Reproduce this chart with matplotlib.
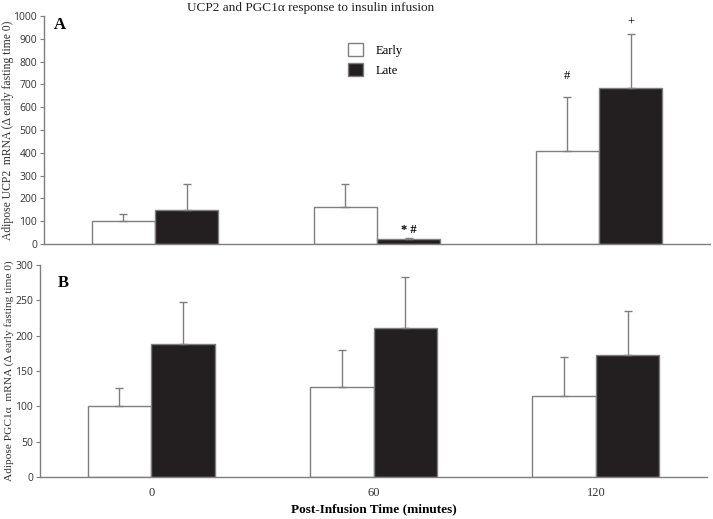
import numpy as np
import matplotlib
matplotlib.use('Agg')
import matplotlib.pyplot as plt

# Data
times = ['0', '60', '120']
ucp2_early = [100, 162, 410]
ucp2_early_err = [30, 103, 235]
ucp2_late = [150, 20, 685]
ucp2_late_err = [112, 6, 237]
pgc_early = [100, 127, 115]
pgc_early_err = [26, 53, 55]
pgc_late = [188, 211, 173]
pgc_late_err = [59, 72, 62]

serif = 'Liberation Serif'
sans = 'Open Sans'
grey = '#7f7f7f'
dark = '#231f20'

fig = plt.figure(figsize=(7.13, 5.19), dpi=100)
axA = fig.add_axes([0.0617, 0.5299, 0.9341, 0.4393])
axB = fig.add_axes([0.0561, 0.0809, 0.9355, 0.4085])

x = np.arange(len(times))
w = 0.285


def draw(ax, early, eerr, late, lerr, ymax, step):
    ax.bar(x - w / 2, early, w, color='white', edgecolor=grey, linewidth=1.0,
           yerr=[np.zeros(3), eerr], error_kw=dict(ecolor=grey, elinewidth=1.0, capsize=3, capthick=1.0),
           label='Early')
    ax.bar(x + w / 2, late, w, color=dark, edgecolor=grey, linewidth=1.0,
           yerr=[np.zeros(3), lerr], error_kw=dict(ecolor=grey, elinewidth=1.0, capsize=3, capthick=1.0),
           label='Late')
    ax.set_xlim(-0.5, 2.5)
    ax.set_ylim(0, ymax)
    ax.set_yticks(np.arange(0, ymax + 1, step))
    for s in ['top', 'right']:
        ax.spines[s].set_visible(False)
    for s in ['left', 'bottom']:
        ax.spines[s].set_color(grey)
        ax.spines[s].set_linewidth(1.0)
    ax.tick_params(axis='y', colors=grey, labelcolor='#333333', length=3, labelsize=7.5, pad=2)
    for lab in ax.get_yticklabels():
        lab.set_fontfamily(sans)
    ax.tick_params(axis='x', length=0)


draw(axA, ucp2_early, ucp2_early_err, ucp2_late, ucp2_late_err, 1000, 100)
axA.set_xticks([])
draw(axB, pgc_early, pgc_early_err, pgc_late, pgc_late_err, 300, 50)
axB.set_xticks(x)
axB.set_xticklabels(times, fontfamily=serif, fontsize=9, color='#333333')
axB.tick_params(axis='x', pad=7)

# significance markers
axA.text(1 + w / 2, 35, '* #', ha='center', va='bottom', fontsize=9, fontfamily=serif, fontweight='bold')
axA.text(2 - w / 2, 710, '#', ha='center', va='bottom', fontsize=9, fontfamily=serif)
axA.text(2 + w / 2, 945, '+', ha='center', va='bottom', fontsize=9, fontfamily=serif)

axA.text(0.015, 0.995, 'A', transform=axA.transAxes, fontsize=12, fontweight='bold',
         fontfamily=serif, va='top')
axB.text(0.026, 0.955, 'B', transform=axB.transAxes, fontsize=12, fontweight='bold',
         fontfamily=serif, va='top')

axA.set_ylabel('Adipose UCP2  mRNA (\u0394 early fasting time 0)', fontfamily=serif,
               fontsize=8.4, color='#333333')
axA.yaxis.set_label_coords(-0.045, 0.5)
axB.set_ylabel('Adipose PGC1\u03b1  mRNA (\u0394 early fasting time 0)', fontfamily=serif,
               fontsize=8.2, color='#333333')
axB.yaxis.set_label_coords(-0.039, 0.5)
axB.set_xlabel('Post-Infusion Time (minutes)', fontfamily=serif, fontweight='bold',
               fontsize=9.5, labelpad=3)

fig.text(0.435, 0.985, 'UCP2 and PGC1\u03b1 response to insulin infusion', ha='center', va='center',
         fontfamily=serif, fontsize=9.5, color='#222222')

leg = axA.legend(loc='upper left', bbox_to_anchor=(0.44, 0.93), frameon=False,
                 prop={'family': serif, 'size': 9}, handlelength=1.2, handleheight=1.2,
                 labelspacing=0.5, handletextpad=1.0)

fig.savefig('out.png', dpi=100)
